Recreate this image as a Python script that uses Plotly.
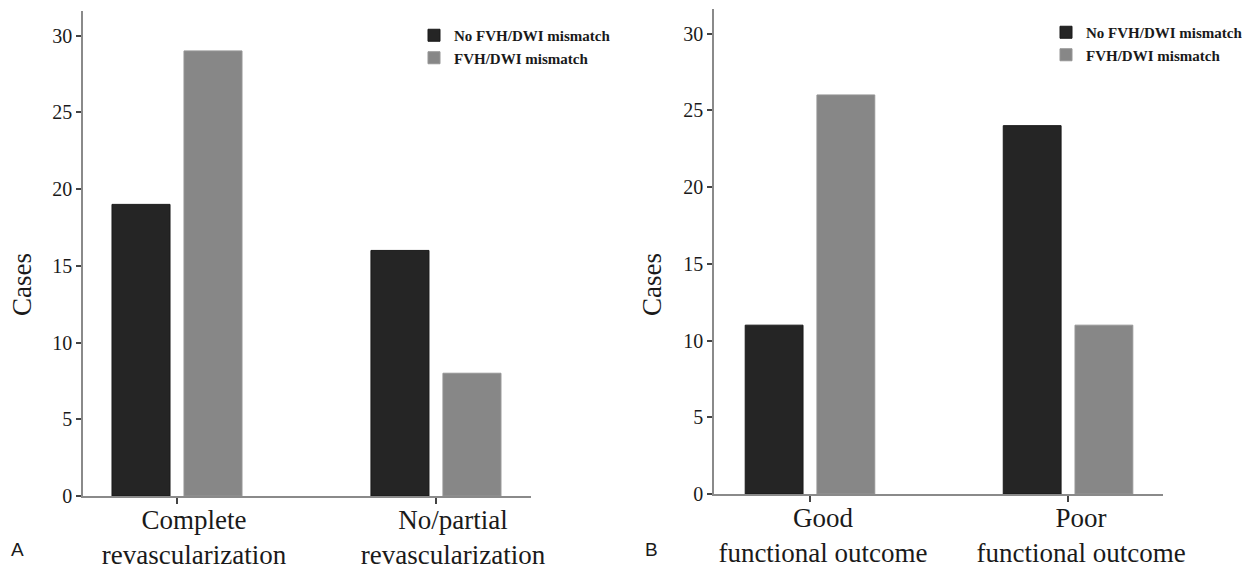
import plotly.graph_objects as go

# ---- data ----
cats_a = ["Complete<br>revascularization", "No/partial<br>revascularization"]
cats_b = ["Good<br>functional outcome", "Poor<br>functional outcome"]
series_names = ["No FVH/DWI mismatch", "FVH/DWI mismatch"]
a_no_mismatch = [19, 16]
a_mismatch = [29, 8]
b_no_mismatch = [11, 24]
b_mismatch = [26, 11]
y_ticks = [0, 5, 10, 15, 20, 25, 30]

DARK = "#252525"
GRAY = "#878787"
AXC = "#8a8a8a"
SERIF = "Liberation Serif"
SANS = "Liberation Sans"
OFF = 8  # page body margin
W, H = 1250 - OFF, 570 - OFF


def px(x):
    return (x - OFF) / W


def py(y):
    return 1 - (y - OFF) / H


fig = go.Figure()
fig.add_trace(go.Bar(x=cats_a, y=a_no_mismatch, name="<b>" + series_names[0] + "</b>", marker_color=DARK,
                     marker_line=dict(color="#1a1a1a", width=1), xaxis="x", yaxis="y", legend="legend"))
fig.add_trace(go.Bar(x=cats_a, y=a_mismatch, name="<b>" + series_names[1] + "</b>", marker_color=GRAY,
                     marker_line=dict(color="#959595", width=1), xaxis="x", yaxis="y", legend="legend"))
fig.add_trace(go.Bar(x=cats_b, y=b_no_mismatch, name="<b>" + series_names[0] + "</b>", marker_color=DARK,
                     marker_line=dict(color="#1a1a1a", width=1), xaxis="x2", yaxis="y2", legend="legend2"))
fig.add_trace(go.Bar(x=cats_b, y=b_mismatch, name="<b>" + series_names[1] + "</b>", marker_color=GRAY,
                     marker_line=dict(color="#959595", width=1), xaxis="x2", yaxis="y2", legend="legend2"))

xcommon = dict(type="category", showline=True, linecolor=AXC, linewidth=1.5, ticks="outside",
               tickcolor="#444", ticklen=6, tickwidth=1.5, showgrid=False, zeroline=False,
               ticklabelstandoff=-7,
               tickfont=dict(family=SERIF, size=27, color="#1a1a1a"), automargin=False)
ycommon = dict(range=[0, 31.6], tickvals=y_ticks, showline=True, linecolor=AXC, linewidth=1.5,
               ticks="outside", tickcolor="#444", ticklen=5, tickwidth=1.5, showgrid=False,
               zeroline=False, tickfont=dict(family=SERIF, size=20, color="#1a1a1a"), automargin=False)

legcommon = dict(font=dict(family=SERIF, size=15, color="#1a1a1a"),
                 bgcolor="rgba(0,0,0,0)", xanchor="left", yanchor="top",
                 tracegroupgap=0, itemwidth=30, traceorder="normal")

fig.update_layout(
    width=W, height=H, margin=dict(l=0, r=0, t=0, b=0),
    paper_bgcolor="white", plot_bgcolor="white",
    barmode="group", bargap=0.444, bargroupgap=0.194,
    xaxis=dict(domain=[px(83), px(531)], range=[-0.363, 1.367], anchor="y",
               ticklabelshift=17, **xcommon),
    yaxis=dict(domain=[py(496), py(11)], anchor="x", **ycommon),
    xaxis2=dict(domain=[px(714), px(1163)], range=[-0.372, 1.368], anchor="y2",
                ticklabelshift=13, **xcommon),
    yaxis2=dict(domain=[py(494), py(9)], anchor="x2", **ycommon),
    legend=dict(x=px(414), y=py(19), **legcommon),
    legend2=dict(x=px(1046), y=py(16), **legcommon),
    showlegend=True,
    annotations=[
        dict(text="Cases", x=px(22), y=py(285), xref="paper", yref="paper", textangle=-90,
             showarrow=False, font=dict(family=SERIF, size=27, color="#1a1a1a"),
             xanchor="center", yanchor="middle"),
        dict(text="Cases", x=px(652), y=py(285), xref="paper", yref="paper", textangle=-90,
             showarrow=False, font=dict(family=SERIF, size=27, color="#1a1a1a"),
             xanchor="center", yanchor="middle"),
        dict(text="A", x=px(17), y=py(549), xref="paper", yref="paper", showarrow=False,
             font=dict(family=SANS, size=19, color="#1a1a1a"), xanchor="center", yanchor="middle"),
        dict(text="B", x=px(651), y=py(549), xref="paper", yref="paper", showarrow=False,
             font=dict(family=SANS, size=19, color="#1a1a1a"), xanchor="center", yanchor="middle"),
    ],
)

fig.write_html("out.html")
